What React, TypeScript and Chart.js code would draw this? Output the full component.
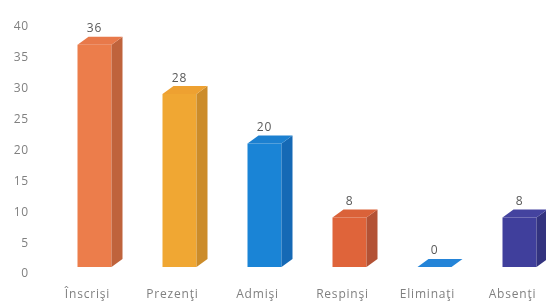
import { useEffect, useRef } from "react";
import { Chart, registerables } from "chart.js";

Chart.register(...registerables);

const categories = ["Înscrişi", "Prezenţi", "Admişi", "Respinşi", "Eliminaţi", "Absenţi"];
const values = [36, 28, 20, 8, 0, 8];
const frontColors = ["#EC7D4B", "#F0A733", "#1A84D6", "#DF643A", "#1F7FD4", "#403F9C"];
const sideColors = ["#BF633C", "#CC8C2A", "#1569B5", "#B35235", "#1A68B0", "#33337F"];
const topColors = ["#E8794A", "#EEA131", "#1C80D0", "#DA6239", "#2484D8", "#44439F"];
const yMin = 0;
const yMax = 40;
const yStep = 5;

const DX = 11;
const DY = 8;

const spacing = {
  id: "spacing",
  beforeDraw(chart: any) {
    (chart.ctx as any).letterSpacing = "0.8px";
  },
};

const bar3d = {
  id: "bar3d",
  afterDatasetsDraw(chart: any) {
    const ctx = chart.ctx;
    const meta = chart.getDatasetMeta(0);
    meta.data.forEach((el: any, i: number) => {
      const { x, y, base, width } = el.getProps(["x", "y", "base", "width"], true);
      const l = x - width / 2;
      const r = x + width / 2;
      ctx.save();
      if (base - y > 0.5) {
        ctx.fillStyle = sideColors[i];
        ctx.beginPath();
        ctx.moveTo(r, base);
        ctx.lineTo(r + DX, base - DY);
        ctx.lineTo(r + DX, y - DY);
        ctx.lineTo(r, y);
        ctx.closePath();
        ctx.fill();
      }
      ctx.fillStyle = topColors[i];
      ctx.beginPath();
      ctx.moveTo(l, y);
      ctx.lineTo(l + DX, y - DY);
      ctx.lineTo(r + DX, y - DY);
      ctx.lineTo(r, y);
      ctx.closePath();
      ctx.fill();
      ctx.fillStyle = "#595959";
      ctx.font = "12px 'Open Sans'";
      ctx.textAlign = "center";
      ctx.textBaseline = "middle";
      ctx.fillText(String(values[i]), x, y - 16);
      ctx.restore();
    });
  },
};

export default function App() {
  const ref = useRef<HTMLCanvasElement | null>(null);
  useEffect(() => {
    if (!ref.current) return;
    const chart = new Chart(ref.current, {
      type: "bar",
      data: {
        labels: categories,
        datasets: [
          {
            data: values,
            backgroundColor: frontColors,
            borderWidth: 0,
            categoryPercentage: 1,
            barPercentage: 0.4,
          },
        ],
      },
      options: {
        animation: false,
        responsive: false,
        devicePixelRatio: 1,
        layout: { padding: { top: 20, right: 8, left: 0, bottom: 0 } },
        plugins: { legend: { display: false }, tooltip: { enabled: false } },
        scales: {
          x: {
            grid: { display: false, drawTicks: false },
            border: { display: false },
            ticks: {
              color: "#808080",
              font: { family: "'Open Sans'", size: 12 },
              padding: 20,
              labelOffset: -7,
              maxRotation: 0,
              autoSkip: false,
            },
            afterFit: (s: any) => {
              s.height = 35;
            },
          },
          y: {
            min: yMin,
            max: yMax,
            grid: { display: false, drawTicks: false },
            border: { display: false },
            ticks: {
              stepSize: yStep,
              color: "#808080",
              font: { family: "'Open Sans'", size: 12 },
              padding: 23,
              labelOffset: 7,
            },
            afterFit: (s: any) => {
              s.width = 52;
              s.paddingTop = 0;
              s.paddingBottom = 0;
            },
          },
        },
      },
      plugins: [spacing, bar3d],
    });
    return () => chart.destroy();
  }, []);
  return (
    <div style={{ position: "fixed", left: 0, top: 0, width: 546, height: 302, overflow: "hidden", background: "#fff" }}>
      <canvas ref={ref} width={570} height={302} />
    </div>
  );
}
